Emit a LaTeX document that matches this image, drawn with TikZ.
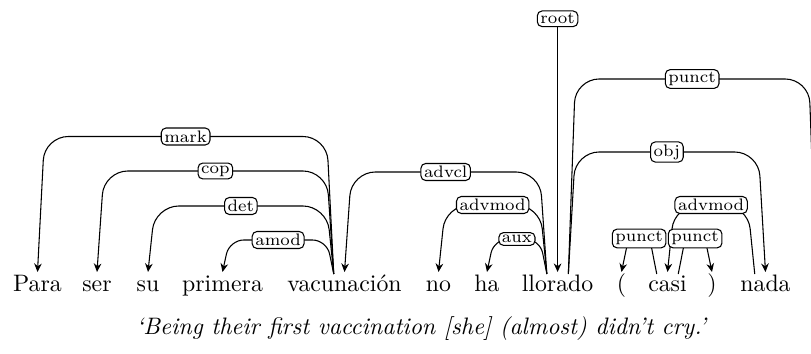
\documentclass[tikz,border=0pt]{standalone}
\usetikzlibrary{calc,arrows.meta}
\tikzset{
  word/.style={anchor=base, inner sep=0pt, font=\normalsize},
  edge/.style={line width=0.45pt, -{Stealth[length=3.6pt,width=3.2pt]}},
  lbl/.style={draw, fill=white, rounded corners=2pt, font=\scriptsize, inner xsep=1.3pt, inner ysep=1.1pt, line width=0.45pt},
}
% #1 corner radius, #2 id, #3 head anchor, #4 dependent anchor, #5 direction (+1 right, -1 left), #6 height of horizontal, #7 label
\newcommand\dedge[7][10pt]{%
  \coordinate (#2s) at ($(#3)+(#5*10.75,-18)$);
  \coordinate (#2e) at ($(#4)+(0,-20)$);
  \coordinate (#2a) at ($(#2s |- 0,#6)+(7*#5,0)$);
  \coordinate (#2b) at ($(#2e |- 0,#6)+(-7*#5,0)$);
  \draw[edge, rounded corners=#1] (#2s) -- (#2a) -- node[lbl] (#2l) {#7} (#2b) -- (#2e);
}
\begin{document}
\begin{tikzpicture}[x=0.42pt,y=-0.42pt]
\useasboundingbox (0,0) rectangle (811,354);
\clip (0,0) rectangle (811,354);
\node[word] (w1) at (37.5,292) {Para};
\node[word] (w2) at (97,292) {ser};
\node[word] (w3) at (148,292) {su};
\node[word] (w4) at (222.5,292) {primera};
\node[word] (w5) at (344.5,292) {vacunaci\'on};
\node[word] (w6) at (438.5,292) {no};
\node[word] (w7) at (487,292) {ha};
\node[word] (w8) at (557.6,292) {llorado};
\node[word] (w9) at (621.5,292) {(};
\node[word] (w10) at (667.5,292) {casi};
\node[word] (w11) at (712,292) {)};
\node[word] (w12) at (765.5,292) {nada};
\coordinate (dot) at (816,292);
\node[anchor=base, font=\itshape] (tr) at (421,335) {`Being their first vaccination [she] (almost) didn't cry.'};

\dedge{e1}{w5.base}{w1.base}{-1}{136.5}{mark}
\dedge{e2}{w5.base}{w2.base}{-1}{171}{cop}
\dedge{e3}{w5.base}{w3.base}{-1}{206}{det}
\dedge[6pt]{e4}{w5.base}{w4.base}{-1}{240}{amod}
\dedge{e5}{w8.base}{w5.base}{-1}{172}{advcl}
\dedge{e6}{w8.base}{w6.base}{-1}{205}{advmod}
\dedge[6pt]{e7}{w8.base}{w7.base}{-1}{239}{aux}
\dedge{e8}{w8.base}{dot}{1}{79}{punct}
\dedge{e9}{w8.base}{w12.base}{1}{152}{obj}
\dedge{e10}{w12.base}{w10.base}{-1}{205}{advmod}
\dedge[4pt]{e11}{w10.base}{w9.base}{-1}{238.5}{punct}
\dedge[4pt]{e12}{w10.base}{w11.base}{1}{238.5}{punct}

\node[lbl] (rootl) at (557.6,18.8) {root};
\draw[edge] (rootl) -- ($(w8.base)+(0,-20)$);
\end{tikzpicture}
\end{document}
